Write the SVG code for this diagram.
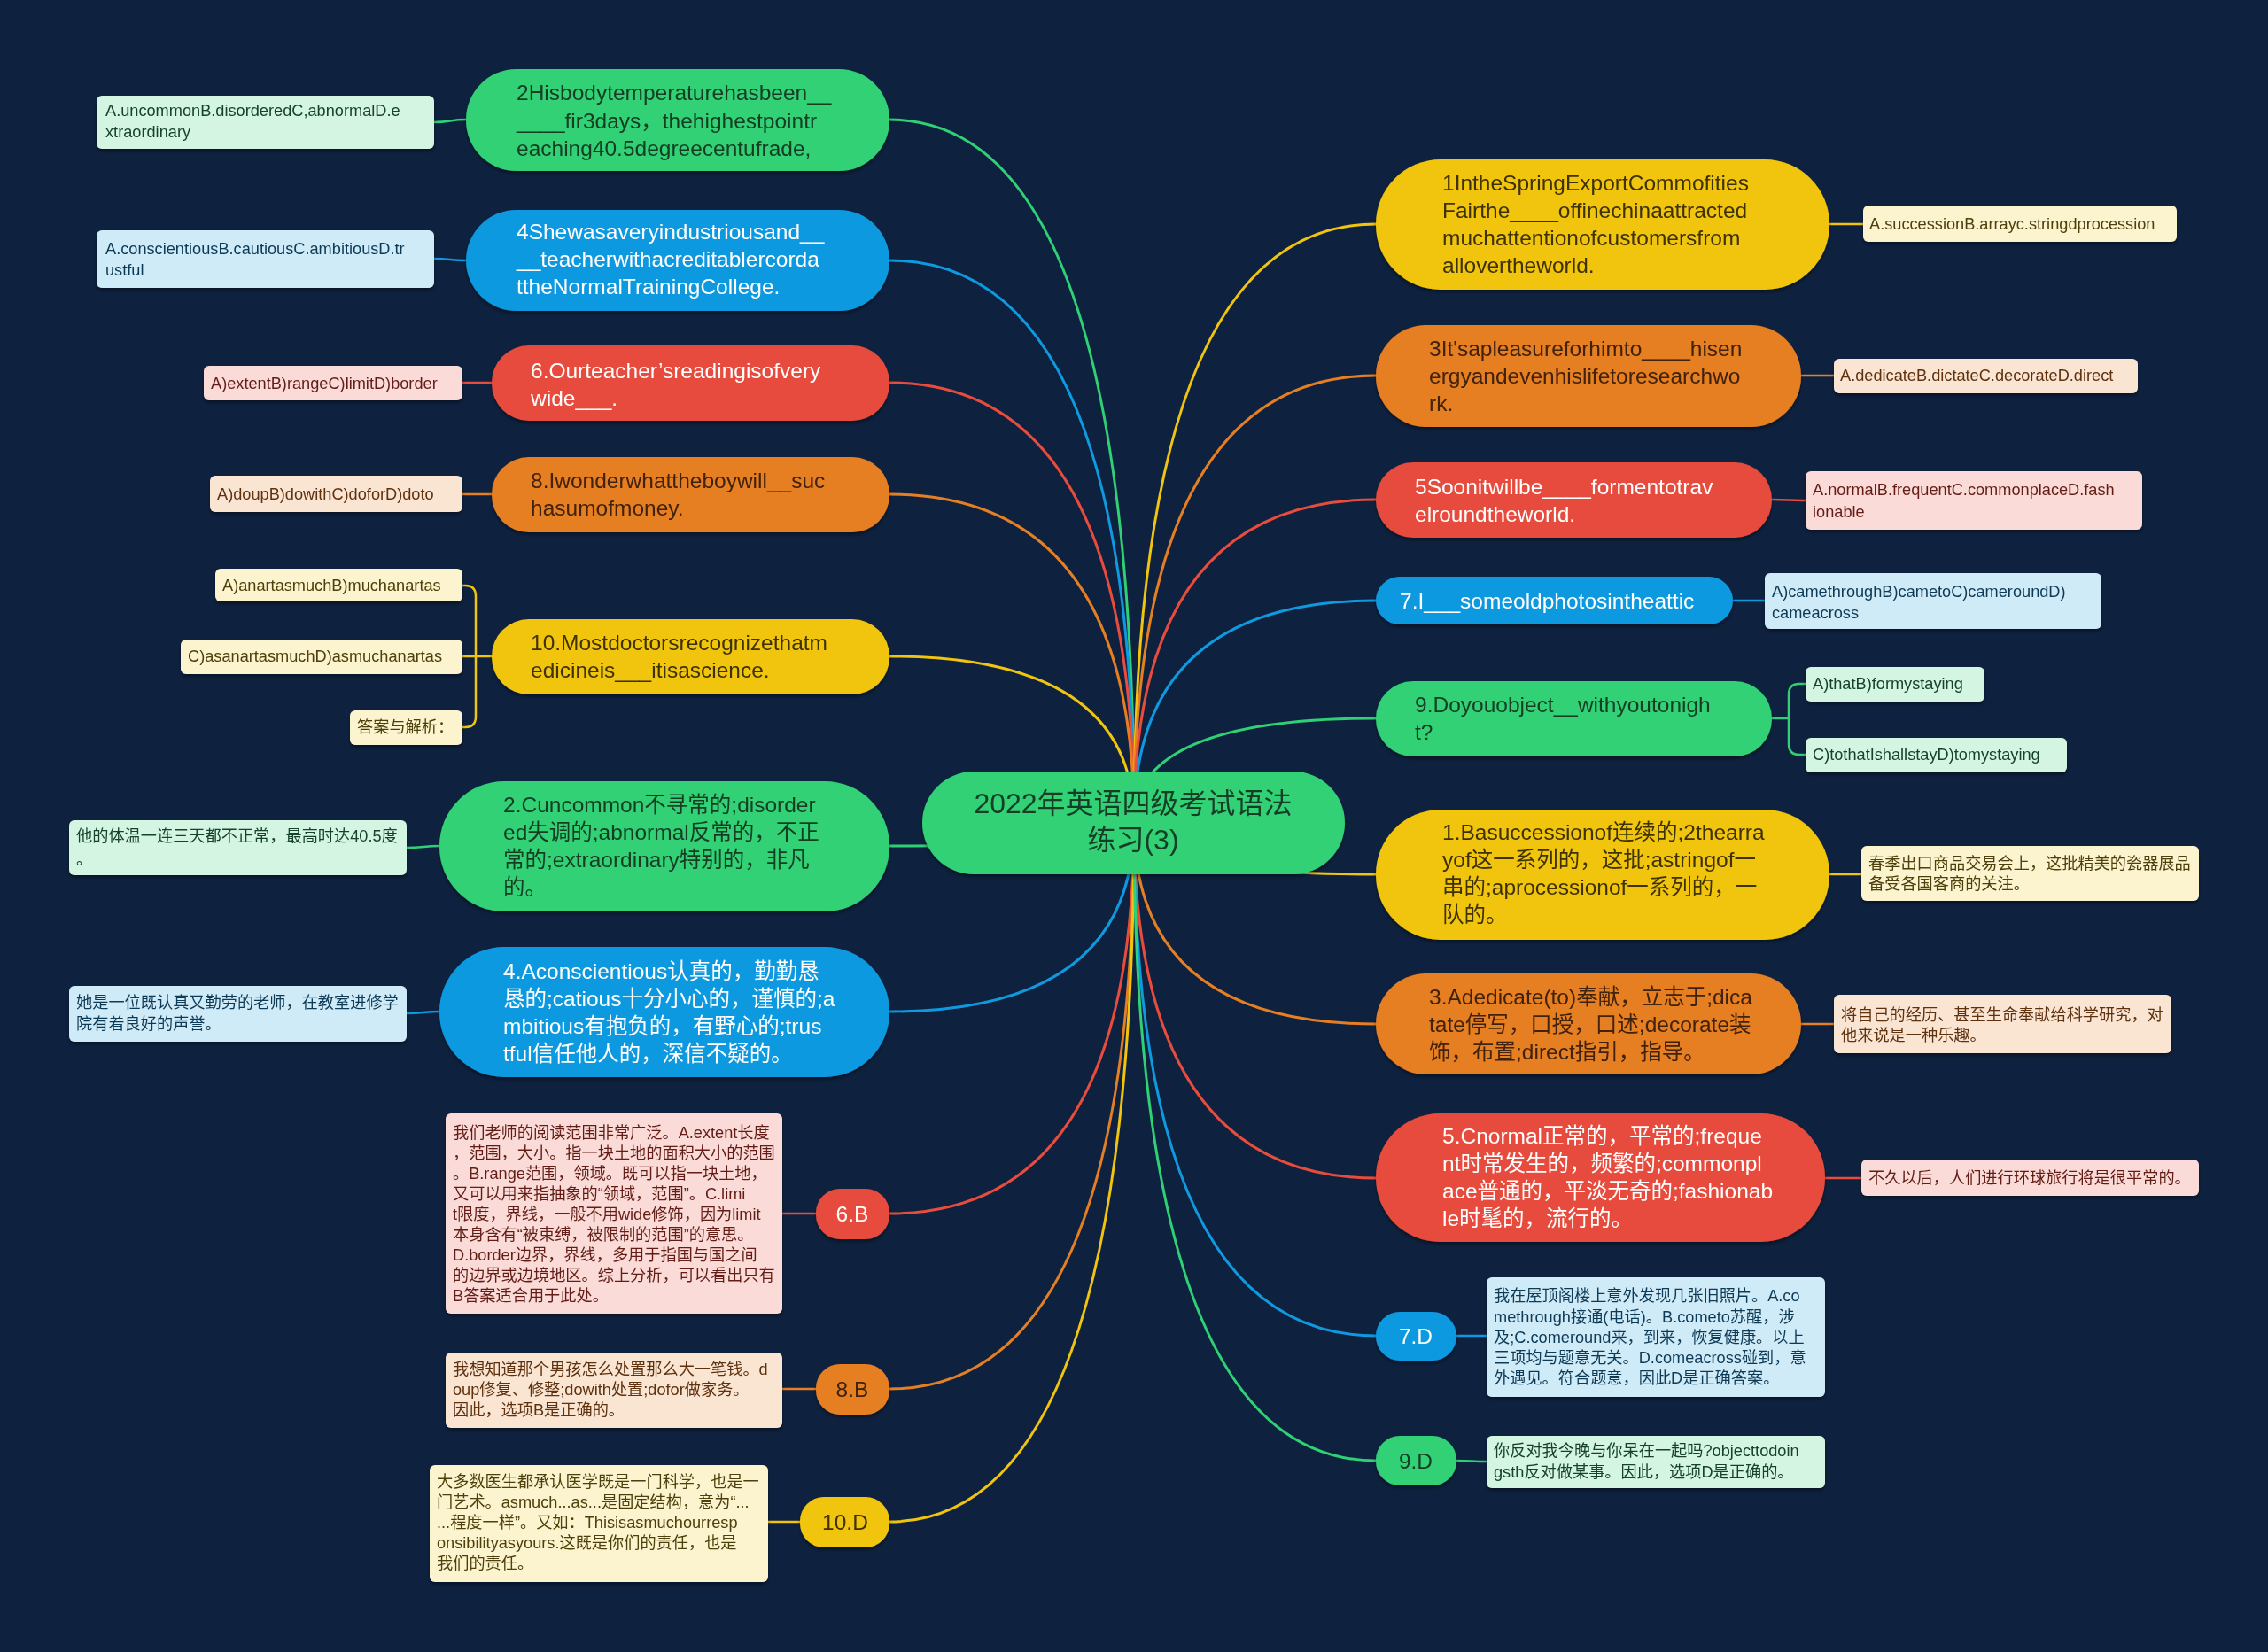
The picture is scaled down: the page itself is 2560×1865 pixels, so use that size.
<svg xmlns="http://www.w3.org/2000/svg" width="2560" height="1865" viewBox="0 0 2560 1865">
<defs>
<filter id="sh" x="-10%" y="-20%" width="120%" height="150%"><feDropShadow dx="0" dy="3" stdDeviation="2" flood-color="#000" flood-opacity="0.4"/></filter>
<style>
text{font-family:"Liberation Sans","Noto Sans CJK SC",sans-serif;dominant-baseline:central}
.b{font-size:24.5px}
.s{font-size:18.2px}
.r{font-size:32px;fill:#163d25}
.c{fill:none;stroke-width:3;stroke-linecap:round}
.cl{fill:none;stroke-width:2.5}
.G{fill:#30d175}.B{fill:#0f99df}.R{fill:#e74c3c}.O{fill:#e67e22}.Y{fill:#f1c40f}
.sG{stroke:#30d175}.sB{stroke:#0f99df}.sR{stroke:#e74c3c}.sO{stroke:#e67e22}.sY{stroke:#f1c40f}
.tG{fill:#143d24}.tW{fill:#ffffff}.tO{fill:#3f2108}.tY{fill:#3d3100}
.lG{fill:#d5f5e3}.lB{fill:#d0ebf8}.lR{fill:#fadbd8}.lO{fill:#fae5d3}.lY{fill:#fcf3cf}
.xG{fill:#16432b}.xB{fill:#0e3a56}.xR{fill:#641e16}.xO{fill:#5e3210}.xY{fill:#4d3f08}
.n{filter:url(#sh)}
</style>
</defs>
<rect width="2560" height="1865" fill="#0e2240"/>
<g id="connectors">
<path class="c sG" d="M1280,928 Q1280,135 1004,135"/>
<path class="c sB" d="M1280,928 Q1280,294 1004,294"/>
<path class="c sR" d="M1280,928 Q1280,432 1004,432"/>
<path class="c sO" d="M1280,928 Q1280,558 1004,558"/>
<path class="c sY" d="M1280,928 Q1280,741 1004,741"/>
<path class="c sG" d="M1280,928 Q1280,955 1004,955"/>
<path class="c sB" d="M1280,928 Q1280,1142 1004,1142"/>
<path class="c sR" d="M1280,928 Q1280,1370 1004,1370"/>
<path class="c sO" d="M1280,928 Q1280,1568 1004,1568"/>
<path class="c sY" d="M1280,928 Q1280,1718 1004,1718"/>
<path class="c sY" d="M1280,928 Q1280,253 1553,253"/>
<path class="c sO" d="M1280,928 Q1280,424 1553,424"/>
<path class="c sR" d="M1280,928 Q1280,564 1553,564"/>
<path class="c sB" d="M1280,928 Q1280,678 1553,678"/>
<path class="c sG" d="M1280,928 Q1280,811 1553,811"/>
<path class="c sY" d="M1280,928 Q1280,987 1553,987"/>
<path class="c sO" d="M1280,928 Q1280,1156 1553,1156"/>
<path class="c sR" d="M1280,928 Q1280,1330 1553,1330"/>
<path class="c sB" d="M1280,928 Q1280,1508 1553,1508"/>
<path class="c sG" d="M1280,928 Q1280,1649 1553,1649"/>
<path class="cl sG" d="M526,135 C508,135 508,138 490,138"/>
<path class="cl sB" d="M526,294 C508,294 508,292 490,292"/>
<path class="cl sR" d="M555,432 H522"/>
<path class="cl sO" d="M555,558 H522"/>
<path class="cl sY" d="M555,741 H522 M537,741 V673 Q537,661 525,661 H522 M537,741 V809 Q537,821 525,821 H522"/>
<path class="cl sG" d="M496,955 C478,955 478,957 459,957"/>
<path class="cl sB" d="M496,1142 C478,1142 478,1144 459,1144"/>
<path class="cl sR" d="M921,1370 H883"/>
<path class="cl sO" d="M921,1568 H883"/>
<path class="cl sY" d="M903,1718 H867"/>
<path class="cl sY" d="M2065,253 H2103"/>
<path class="cl sO" d="M2033,424 H2070"/>
<path class="cl sR" d="M2000,564 C2019,564 2019,565 2038,565"/>
<path class="cl sB" d="M1956,678 H1992"/>
<path class="cl sG" d="M2000,811 H2019 M2019,811 V784 Q2019,772 2031,772 H2038 M2019,811 V840 Q2019,852 2031,852 H2038"/>
<path class="cl sY" d="M2065,987 H2101"/>
<path class="cl sO" d="M2033,1156 H2070"/>
<path class="cl sR" d="M2060,1330 H2101"/>
<path class="cl sB" d="M1644,1508 H1678"/>
<path class="cl sG" d="M1644,1649 C1661,1649 1661,1650 1678,1650"/>
</g>
<g id="root" class="n"><rect x="1041" y="871" width="477" height="116" rx="58" class="G"/>
<text class="r" text-anchor="middle"><tspan x="1279" y="907">2022年英语四级考试语法</tspan><tspan x="1279" y="948">练习(3)</tspan></text></g>
<g id="L1" class="n"><rect x="526" y="78" width="478" height="115" rx="57" class="G"/>
<text class="b tG"><tspan x="583" y="104">2Hisbodytemperaturehasbeen__</tspan><tspan x="583" y="136">____fir3days，thehighestpointr</tspan><tspan x="583" y="167">eaching40.5degreecentufrade,</tspan></text></g>
<g id="L2" class="n"><rect x="526" y="237" width="478" height="114" rx="57" class="B"/>
<text class="b tW"><tspan x="583" y="261">4Shewasaveryindustriousand__</tspan><tspan x="583" y="292">__teacherwithacreditablercorda</tspan><tspan x="583" y="323">ttheNormalTrainingCollege.</tspan></text></g>
<g id="L3" class="n"><rect x="555" y="390" width="449" height="85" rx="42" class="R"/>
<text class="b tW"><tspan x="599" y="418">6.Ourteacher’sreadingisofvery</tspan><tspan x="599" y="449">wide___.</tspan></text></g>
<g id="L4" class="n"><rect x="555" y="516" width="449" height="85" rx="42" class="O"/>
<text class="b tO"><tspan x="599" y="542">8.Iwonderwhattheboywill__suc</tspan><tspan x="599" y="573">hasumofmoney.</tspan></text></g>
<g id="L5" class="n"><rect x="555" y="699" width="449" height="85" rx="42" class="Y"/>
<text class="b tY"><tspan x="599" y="725">10.Mostdoctorsrecognizethatm</tspan><tspan x="599" y="756">edicineis___itisascience.</tspan></text></g>
<g id="L6" class="n"><rect x="496" y="882" width="508" height="147" rx="73" class="G"/>
<text class="b tG"><tspan x="568" y="908">2.Cuncommon不寻常的;disorder</tspan><tspan x="568" y="939">ed失调的;abnormal反常的，不正</tspan><tspan x="568" y="970">常的;extraordinary特别的，非凡</tspan><tspan x="568" y="1001">的。</tspan></text></g>
<g id="L7" class="n"><rect x="496" y="1069" width="508" height="147" rx="73" class="B"/>
<text class="b tW"><tspan x="568" y="1096">4.Aconscientious认真的，勤勤恳</tspan><tspan x="568" y="1127">恳的;catious十分小心的，谨慎的;a</tspan><tspan x="568" y="1158">mbitious有抱负的，有野心的;trus</tspan><tspan x="568" y="1189">tful信任他人的，深信不疑的。</tspan></text></g>
<g id="L8" class="n"><rect x="921" y="1342" width="83" height="57" rx="27" class="R"/>
<text class="b tW" x="962" y="1370" text-anchor="middle">6.B</text></g>
<g id="L9" class="n"><rect x="921" y="1540" width="83" height="57" rx="27" class="O"/>
<text class="b tO" x="962" y="1568" text-anchor="middle">8.B</text></g>
<g id="L10" class="n"><rect x="903" y="1690" width="101" height="57" rx="27" class="Y"/>
<text class="b tY" x="954" y="1718" text-anchor="middle">10.D</text></g>
<g id="R1" class="n"><rect x="1553" y="180" width="512" height="147" rx="73" class="Y"/>
<text class="b tY"><tspan x="1628" y="206">1IntheSpringExportCommofities</tspan><tspan x="1628" y="237">Fairthe____offinechinaattracted</tspan><tspan x="1628" y="268">muchattentionofcustomersfrom</tspan><tspan x="1628" y="299">allovertheworld.</tspan></text></g>
<g id="R2" class="n"><rect x="1553" y="367" width="480" height="115" rx="57" class="O"/>
<text class="b tO"><tspan x="1613" y="393">3It'sapleasureforhimto____hisen</tspan><tspan x="1613" y="424">ergyandevenhislifetoresearchwo</tspan><tspan x="1613" y="455">rk.</tspan></text></g>
<g id="R3" class="n"><rect x="1553" y="522" width="447" height="85" rx="42" class="R"/>
<text class="b tW"><tspan x="1597" y="549">5Soonitwillbe____formentotrav</tspan><tspan x="1597" y="580">elroundtheworld.</tspan></text></g>
<g id="R4" class="n"><rect x="1553" y="651" width="403" height="54" rx="27" class="B"/>
<text class="b tW" x="1580" y="678">7.I___someoldphotosintheattic</text></g>
<g id="R5" class="n"><rect x="1553" y="769" width="447" height="85" rx="42" class="G"/>
<text class="b tG"><tspan x="1597" y="795">9.Doyouobject__withyoutonigh</tspan><tspan x="1597" y="826">t?</tspan></text></g>
<g id="R6" class="n"><rect x="1553" y="914" width="512" height="147" rx="73" class="Y"/>
<text class="b tY"><tspan x="1628" y="939">1.Basuccessionof连续的;2thearra</tspan><tspan x="1628" y="970">yof这一系列的，这批;astringof一</tspan><tspan x="1628" y="1001">串的;aprocessionof一系列的，一</tspan><tspan x="1628" y="1032">队的。</tspan></text></g>
<g id="R7" class="n"><rect x="1553" y="1099" width="480" height="114" rx="57" class="O"/>
<text class="b tO"><tspan x="1613" y="1125">3.Adedicate(to)奉献，立志于;dica</tspan><tspan x="1613" y="1156">tate停写，口授，口述;decorate装</tspan><tspan x="1613" y="1187">饰，布置;direct指引，指导。</tspan></text></g>
<g id="R8" class="n"><rect x="1553" y="1257" width="507" height="145" rx="72" class="R"/>
<text class="b tW"><tspan x="1628" y="1282">5.Cnormal正常的，平常的;freque</tspan><tspan x="1628" y="1313">nt时常发生的，频繁的;commonpl</tspan><tspan x="1628" y="1344">ace普通的，平淡无奇的;fashionab</tspan><tspan x="1628" y="1375">le时髦的，流行的。</tspan></text></g>
<g id="R9" class="n"><rect x="1553" y="1481" width="91" height="55" rx="27" class="B"/>
<text class="b tW" x="1598" y="1508" text-anchor="middle">7.D</text></g>
<g id="R10" class="n"><rect x="1553" y="1621" width="91" height="56" rx="27" class="G"/>
<text class="b tG" x="1598" y="1649" text-anchor="middle">9.D</text></g>
<g id="LL1" class="n"><rect x="109" y="108" width="381" height="60" rx="6" class="lG"/>
<text class="s xG"><tspan x="119" y="125">A.uncommonB.disorderedC,abnormalD.e</tspan><tspan x="119" y="149">xtraordinary</tspan></text></g>
<g id="LL2" class="n"><rect x="109" y="260" width="381" height="65" rx="6" class="lB"/>
<text class="s xB"><tspan x="119" y="281">A.conscientiousB.cautiousC.ambitiousD.tr</tspan><tspan x="119" y="305">ustful</tspan></text></g>
<g id="LL3" class="n"><rect x="230" y="413" width="292" height="39" rx="6" class="lR"/>
<text class="s xR" x="238" y="433">A)extentB)rangeC)limitD)border</text></g>
<g id="LL4" class="n"><rect x="237" y="537" width="285" height="41" rx="6" class="lO"/>
<text class="s xO" x="245" y="558">A)doupB)dowithC)doforD)doto</text></g>
<g id="LL5" class="n"><rect x="243" y="642" width="279" height="37" rx="6" class="lY"/>
<text class="s xY" x="251" y="661">A)anartasmuchB)muchanartas</text></g>
<g id="LL6" class="n"><rect x="204" y="722" width="318" height="39" rx="6" class="lY"/>
<text class="s xY" x="212" y="741">C)asanartasmuchD)asmuchanartas</text></g>
<g id="LL7" class="n"><rect x="395" y="802" width="127" height="39" rx="6" class="lY"/>
<text class="s xY" x="403" y="821">答案与解析：</text></g>
<g id="LL8" class="n"><rect x="78" y="926" width="381" height="62" rx="6" class="lG"/>
<text class="s xG"><tspan x="86" y="944">他的体温一连三天都不正常，最高时达40.5度</tspan><tspan x="86" y="970">。</tspan></text></g>
<g id="LL9" class="n"><rect x="78" y="1113" width="381" height="63" rx="6" class="lB"/>
<text class="s xB"><tspan x="86" y="1132">她是一位既认真又勤劳的老师，在教室进修学</tspan><tspan x="86" y="1156">院有着良好的声誉。</tspan></text></g>
<g id="LL10" class="n"><rect x="503" y="1257" width="380" height="226" rx="6" class="lR"/>
<text class="s xR"><tspan x="511" y="1279">我们老师的阅读范围非常广泛。A.extent长度</tspan><tspan x="511" y="1302">，范围，大小。指一块土地的面积大小的范围</tspan><tspan x="511" y="1325">。B.range范围，领域。既可以指一块土地，</tspan><tspan x="511" y="1348">又可以用来指抽象的“领域，范围”。C.limi</tspan><tspan x="511" y="1371">t限度，界线，一般不用wide修饰，因为limit</tspan><tspan x="511" y="1394">本身含有“被束缚，被限制的范围”的意思。</tspan><tspan x="511" y="1417">D.border边界，界线，多用于指国与国之间</tspan><tspan x="511" y="1440">的边界或边境地区。综上分析，可以看出只有</tspan><tspan x="511" y="1463">B答案适合用于此处。</tspan></text></g>
<g id="LL11" class="n"><rect x="503" y="1527" width="380" height="85" rx="6" class="lO"/>
<text class="s xO"><tspan x="511" y="1546">我想知道那个男孩怎么处置那么大一笔钱。d</tspan><tspan x="511" y="1569">oup修复、修整;dowith处置;dofor做家务。</tspan><tspan x="511" y="1592">因此，选项B是正确的。</tspan></text></g>
<g id="LL12" class="n"><rect x="485" y="1654" width="382" height="132" rx="6" class="lY"/>
<text class="s xY"><tspan x="493" y="1673">大多数医生都承认医学既是一门科学，也是一</tspan><tspan x="493" y="1696">门艺术。asmuch...as...是固定结构，意为“...</tspan><tspan x="493" y="1719">...程度一样”。又如：Thisisasmuchourresp</tspan><tspan x="493" y="1742">onsibilityasyours.这既是你们的责任，也是</tspan><tspan x="493" y="1765">我们的责任。</tspan></text></g>
<g id="RL1" class="n"><rect x="2103" y="232" width="354" height="41" rx="6" class="lY"/>
<text class="s xY" x="2110" y="253">A.successionB.arrayc.stringdprocession</text></g>
<g id="RL2" class="n"><rect x="2070" y="405" width="343" height="39" rx="6" class="lO"/>
<text class="s xO" x="2077" y="424">A.dedicateB.dictateC.decorateD.direct</text></g>
<g id="RL3" class="n"><rect x="2038" y="532" width="380" height="66" rx="6" class="lR"/>
<text class="s xR"><tspan x="2046" y="553">A.normalB.frequentC.commonplaceD.fash</tspan><tspan x="2046" y="578">ionable</tspan></text></g>
<g id="RL4" class="n"><rect x="1992" y="647" width="380" height="63" rx="6" class="lB"/>
<text class="s xB"><tspan x="2000" y="668">A)camethroughB)cametoC)cameroundD)</tspan><tspan x="2000" y="692">cameacross</tspan></text></g>
<g id="RL5" class="n"><rect x="2038" y="753" width="202" height="39" rx="6" class="lG"/>
<text class="s xG" x="2046" y="772">A)thatB)formystaying</text></g>
<g id="RL6" class="n"><rect x="2038" y="833" width="295" height="39" rx="6" class="lG"/>
<text class="s xG" x="2046" y="852">C)tothatIshallstayD)tomystaying</text></g>
<g id="RL7" class="n"><rect x="2101" y="955" width="381" height="62" rx="6" class="lY"/>
<text class="s xY"><tspan x="2109" y="975">春季出口商品交易会上，这批精美的瓷器展品</tspan><tspan x="2109" y="998">备受各国客商的关注。</tspan></text></g>
<g id="RL8" class="n"><rect x="2070" y="1123" width="381" height="66" rx="6" class="lO"/>
<text class="s xO"><tspan x="2078" y="1146">将自己的经历、甚至生命奉献给科学研究，对</tspan><tspan x="2078" y="1169">他来说是一种乐趣。</tspan></text></g>
<g id="RL9" class="n"><rect x="2101" y="1309" width="381" height="41" rx="6" class="lR"/>
<text class="s xR" x="2109" y="1330">不久以后，人们进行环球旅行将是很平常的。</text></g>
<g id="RL10" class="n"><rect x="1678" y="1442" width="382" height="135" rx="6" class="lB"/>
<text class="s xB"><tspan x="1686" y="1463">我在屋顶阁楼上意外发现几张旧照片。A.co</tspan><tspan x="1686" y="1487">methrough接通(电话)。B.cometo苏醒，涉</tspan><tspan x="1686" y="1510">及;C.comeround来，到来，恢复健康。以上</tspan><tspan x="1686" y="1533">三项均与题意无关。D.comeacross碰到，意</tspan><tspan x="1686" y="1556">外遇见。符合题意，因此D是正确答案。</tspan></text></g>
<g id="RL11" class="n"><rect x="1678" y="1621" width="382" height="59" rx="6" class="lG"/>
<text class="s xG"><tspan x="1686" y="1638">你反对我今晚与你呆在一起吗?objecttodoin</tspan><tspan x="1686" y="1662">gsth反对做某事。因此，选项D是正确的。</tspan></text></g>
</svg>
